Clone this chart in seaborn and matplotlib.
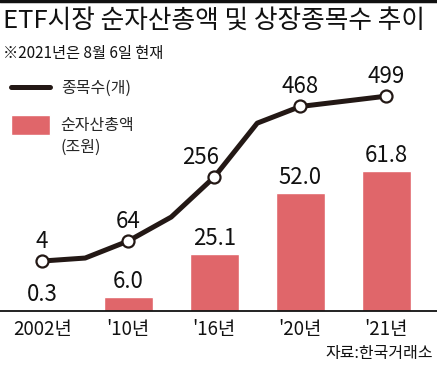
import numpy as np
import pandas as pd
import matplotlib
matplotlib.use("Agg")
import matplotlib.pyplot as plt
import seaborn as sns
from matplotlib.lines import Line2D
from matplotlib.patches import Patch

# Data
CATEGORIES = ["2002년", "'10년", "'16년", "'20년", "'21년"]
CATEGORY_YEARS = [2002, 2010, 2016, 2020, 2021]
NET_ASSETS = [0.3, 6.0, 25.1, 52.0, 61.8]          # 순자산총액 (조원)

LINE_YEARS = [2002, 2006, 2010, 2013, 2016, 2018, 2020, 2021]
LISTED_COUNT = [4, 13, 64, 136, 256, 418, 468, 499]  # 종목수 (개)
LABELED_YEARS = [2002, 2010, 2016, 2020, 2021]

BAR_COLOR = "#E0666A"
LINE_COLOR = "#231815"

sns.set_style("white")
plt.rcParams["font.family"] = ["Noto Sans CJK KR", "DejaVu Sans"]

fig = plt.figure(figsize=(4.37, 3.66), dpi=100)
ax = fig.add_axes([0, 55 / 366, 1, 251 / 366])

bars_df = pd.DataFrame({"cat": CATEGORIES, "value": NET_ASSETS})
sns.barplot(data=bars_df, x="cat", y="value", color=BAR_COLOR, saturation=1,
            width=0.57, ax=ax)
ax.bar_label(ax.containers[0], labels=[f"{v:.1f}" for v in NET_ASSETS],
             padding=3, fontsize=16, color="#111111")

ax.set_xlim(-0.49, 4.59)
ax.set_ylim(0, 110.6)
ax.set_xlabel("")
ax.set_ylabel("")
ax.set_yticks([])
ax.tick_params(axis="x", length=0, pad=6, labelsize=13.5, colors="#111111")
for side in ["top", "right", "left"]:
    ax.spines[side].set_visible(False)
ax.spines["bottom"].set_color("#111111")
ax.spines["bottom"].set_linewidth(1.3)

# line on a second y scale, x placed on the category axis
ax2 = ax.twinx()
line_df = pd.DataFrame({
    "pos": np.interp(LINE_YEARS, CATEGORY_YEARS, np.arange(len(CATEGORIES))),
    "count": LISTED_COUNT,
    "year": LINE_YEARS,
})
sns.lineplot(data=line_df, x="pos", y="count", color=LINE_COLOR, lw=3.6,
             ax=ax2, zorder=3)
marked = line_df[line_df["year"].isin(LABELED_YEARS)]
ax2.scatter(marked["pos"], marked["count"], s=75, facecolor="white",
            edgecolor=LINE_COLOR, linewidth=1.6, zorder=4)
for _, row in marked.iterrows():
    dx = -10 if row["year"] == 2016 else 0
    ax2.annotate(f"{int(row['count'])}", (row["pos"], row["count"]),
                 xytext=(dx, 6), textcoords="offset points",
                 ha="center", va="bottom", fontsize=16, color="#111111")
ax2.set_ylim(-146, 607.6)
ax2.set_xlim(-0.49, 4.59)
ax2.set_yticks([])
ax2.set_ylabel("")
ax2.set_xlabel("")
for side in ["top", "right", "left", "bottom"]:
    ax2.spines[side].set_visible(False)

# legends
leg1 = ax.legend(handles=[Line2D([], [], color=LINE_COLOR, lw=3.6)],
                 labels=["종목수(개)"], loc="upper left",
                 bbox_to_anchor=(0.0, 0.965), frameon=False, fontsize=11.5,
                 handlelength=2.4, handletextpad=0.7, borderaxespad=0.3)
ax.add_artist(leg1)
ax.legend(handles=[Patch(facecolor=BAR_COLOR), Patch(facecolor="none", edgecolor="none")],
          labels=["순자산총액", "(조원)"], loc="upper left",
          bbox_to_anchor=(0.0, 0.825), frameon=False, fontsize=11.5,
          handlelength=2.4, handleheight=1.5, handletextpad=0.7,
          labelspacing=0.15, borderaxespad=0.3)

# titles and notes
fig.add_artist(Line2D([0, 1], [0.998, 0.998], color="#111111", lw=2.5))
fig.text(0.007, 0.943, "ETF시장 순자산총액 및 상장종목수 추이", fontsize=18.5,
         fontweight="medium", ha="left", va="center", color="#111111")
fig.text(0.007, 0.855, "※2021년은 8월 6일 현재", fontsize=11,
         ha="left", va="center", color="#111111")
fig.text(0.992, 0.033, "자료:한국거래소", fontsize=11.5,
         ha="right", va="center", color="#111111")

fig.savefig("out.png", dpi=100)
